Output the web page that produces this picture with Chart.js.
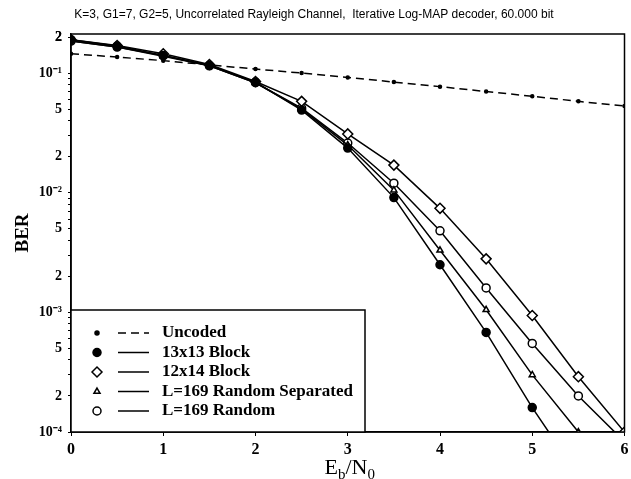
<!DOCTYPE html>
<html>
<head>
<meta charset="utf-8">
<script src="https://cdn.jsdelivr.net/npm/chart.js@4"></script>
<style>
    html, body { margin: 0; padding: 0; background: #fff; }
    #wrap { width: 631px; height: 479px; }
</style>
</head>
<body>
<div id="wrap"><canvas id="berChart" width="631" height="479"></canvas></div>
<script>
// Eb/N0 in dB
const ebn0 = [0, 0.5, 1, 1.5, 2, 2.5, 3, 3.5, 4, 4.5, 5, 5.5, 6];

// BER values
const uncoded   = [0.145, 0.136, 0.127, 0.117, 0.108, 0.100, 0.092, 0.084, 0.077, 0.070, 0.064, 0.058, 0.053];
const block13   = [0.19, 0.168, 0.14, 0.116, 0.084, 0.049, 0.0236, 0.0091, 0.0025, 0.00068, 0.00016, 0.000043, null];
const block12   = [0.19, 0.17, 0.145, 0.118, 0.085, 0.058, 0.031, 0.017, 0.0074, 0.0028, 0.00094, 0.00029, 0.0001];
const randomSep = [0.185, 0.165, 0.138, 0.115, 0.083, 0.050, 0.025, 0.0105, 0.0033, 0.00105, 0.0003, 0.0001, null];
const random169 = [0.185, 0.165, 0.14, 0.115, 0.083, 0.051, 0.026, 0.012, 0.0048, 0.0016, 0.00055, 0.0002, 0.000083];

const seriesNames = ["Uncoded", "13x13 Block", "12x14 Block", "L=169 Random Separated", "L=169 Random"];
const yTickLabels = { 0.2: "2", 0.1: "10\u207B\u00B9", 0.05: "5", 0.02: "2", 0.01: "10\u207B\u00B2",
    0.005: "5", 0.002: "2", 0.001: "10\u207B\u00B3", 0.0005: "5", 0.0002: "2", 0.0001: "10\u207B\u2074" };

const serif = "'Liberation Serif', 'Times New Roman', serif";

function toPoints(values) {
    return ebn0.map((x, i) => ({ x: x, y: values[i] }));
}

function makeSet(label, values, style) {
    return {
        label: label,
        data: toPoints(values),
        borderColor: "#000",
        backgroundColor: style.fill,
        borderWidth: 1.5,
        borderDash: style.dash || [],
        pointStyle: style.point,
        pointRadius: style.radius,
        pointBorderWidth: 1.5,
        pointBackgroundColor: style.fill,
        pointBorderColor: "#000",
        tension: 0,
        spanGaps: false
    };
}

const styles = [
    { point: "circle", radius: 1.5, fill: "#000", dash: [8, 5] },
    { point: "circle", radius: 4, fill: "#000" },
    { point: "rectRot", radius: 5, fill: "#fff" },
    { point: "triangle", radius: 3.5, fill: "#fff" },
    { point: "circle", radius: 4, fill: "#fff" }
];

// box round the plot area
const framePlugin = {
    id: "frame",
    afterDatasetsDraw(chart) {
        const { ctx, chartArea: a } = chart;
        ctx.save();
        ctx.strokeStyle = "#000";
        ctx.lineWidth = 1.5;
        ctx.strokeRect(a.left, a.top, a.right - a.left, a.bottom - a.top);
        ctx.restore();
    }
};

// legend inside the lower left corner: marker, line sample, text
const legendPlugin = {
    id: "boxLegend",
    afterDraw(chart) {
        const { ctx, chartArea: a } = chart;
        const boxW = 294, boxH = 122;
        const x0 = a.left, y0 = a.bottom - boxH;
        ctx.save();
        ctx.fillStyle = "#fff";
        ctx.fillRect(x0, y0, boxW, boxH);
        ctx.strokeStyle = "#000";
        ctx.lineWidth = 1.5;
        ctx.strokeRect(x0, y0, boxW, boxH);
        ctx.font = "bold 17px " + serif;
        ctx.textBaseline = "middle";
        chart.data.datasets.forEach((ds, i) => {
            const y = y0 + 23 + i * 19.5;
            ctx.strokeStyle = "#000";
            ctx.fillStyle = ds.pointBackgroundColor;
            ctx.lineWidth = 1.5;
            Chart.helpers.drawPoint(ctx, {
                pointStyle: ds.pointStyle,
                radius: ds.pointStyle === "circle" && ds.pointRadius < 2 ? 2 : ds.pointRadius,
                rotation: 0,
                borderWidth: 1.5
            }, x0 + 26, y);
            ctx.beginPath();
            ctx.setLineDash(ds.borderDash);
            ctx.moveTo(x0 + 47, y);
            ctx.lineTo(x0 + 78, y);
            ctx.stroke();
            ctx.setLineDash([]);
            ctx.fillStyle = "#000";
            ctx.fillText(ds.label, x0 + 91, y);
        });
        ctx.restore();
    }
};

// x axis title with subscripts
const xTitlePlugin = {
    id: "xTitle",
    afterDraw(chart) {
        const { ctx, chartArea: a } = chart;
        const big = "22px " + serif, small = "15px " + serif;
        const parts = [["E", big, 0], ["b", small, 5], ["/N", big, 0], ["0", small, 5]];
        ctx.save();
        ctx.fillStyle = "#000";
        ctx.textBaseline = "alphabetic";
        let total = 0;
        parts.forEach(p => { ctx.font = p[1]; total += ctx.measureText(p[0]).width; });
        let x = (a.left + a.right) / 2 + 2 - total / 2;
        const base = 474;
        parts.forEach(p => {
            ctx.font = p[1];
            ctx.fillText(p[0], x, base + p[2]);
            x += ctx.measureText(p[0]).width;
        });
        ctx.restore();
    }
};

const noPadding = () => ({ left: 0, top: 0, right: 0, bottom: 0 });

function initChart() {
    const ctx = document.getElementById("berChart").getContext("2d");
    const allSeries = [uncoded, block13, block12, randomSep, random169];

    new Chart(ctx, {
        type: "line",
        data: {
            datasets: allSeries.map((vals, i) => makeSet(seriesNames[i], vals, styles[i]))
        },
        options: {
            responsive: false,
            animation: false,
            layout: { padding: { left: 0, right: 3, top: 0, bottom: 0 } },
            plugins: {
                legend: { display: false },
                tooltip: { enabled: false },
                title: {
                    display: true,
                    text: "K=3, G1=7, G2=5, Uncorrelated Rayleigh Channel,  Iterative Log-MAP decoder, 60.000 bit",
                    color: "#000",
                    font: { family: "'Liberation Sans', Arial, sans-serif", size: 12, weight: "normal" },
                    padding: { top: 7, bottom: 12.6 }
                }
            },
            scales: {
                x: {
                    type: "linear",
                    min: 0,
                    max: 6,
                    ticks: {
                        stepSize: 1,
                        color: "#000",
                        padding: 4,
                        font: { family: serif, size: 16, weight: "bold" }
                    },
                    grid: { drawOnChartArea: false, color: "#000", tickLength: 4 },
                    border: { color: "#000", width: 1.5 },
                    afterFit(scale) {
                        scale.height = 47;
                        scale.paddingLeft = 0;
                        scale.paddingRight = 0;
                        scale.getPadding = noPadding;
                    }
                },
                y: {
                    type: "logarithmic",
                    min: 0.0001,
                    max: 0.212,
                    afterBuildTicks(scale) {
                        const t = [];
                        for (let e = -4; e <= -1; e++) {
                            for (let m = 1; m <= 9; m++) {
                                const v = m * Math.pow(10, e);
                                if (v <= 0.21) t.push({ value: v });
                            }
                        }
                        t.push({ value: 0.2 });
                        scale.ticks = t;
                    },
                    ticks: {
                        autoSkip: false,
                        color: "#000",
                        padding: 6,
                        font: { family: serif, size: 14, weight: "bold" },
                        callback: function (value) {
                            const key = Object.keys(yTickLabels).find(k => Math.abs(Number(k) - value) / value < 1e-6);
                            return key ? yTickLabels[key] : "";
                        }
                    },
                    grid: { drawOnChartArea: false, color: "#000", tickLength: 3 },
                    border: { color: "#000", width: 1.5 },
                    title: {
                        display: true,
                        text: "BER",
                        color: "#000",
                        font: { family: serif, size: 19, weight: "bold" },
                        padding: { top: 12, bottom: 0 }
                    },
                    afterFit(scale) {
                        scale.width = 71;
                    }
                }
            }
        },
        plugins: [framePlugin, legendPlugin, xTitlePlugin]
    });
}

document.addEventListener("DOMContentLoaded", initChart);
</script>
</body>
</html>
